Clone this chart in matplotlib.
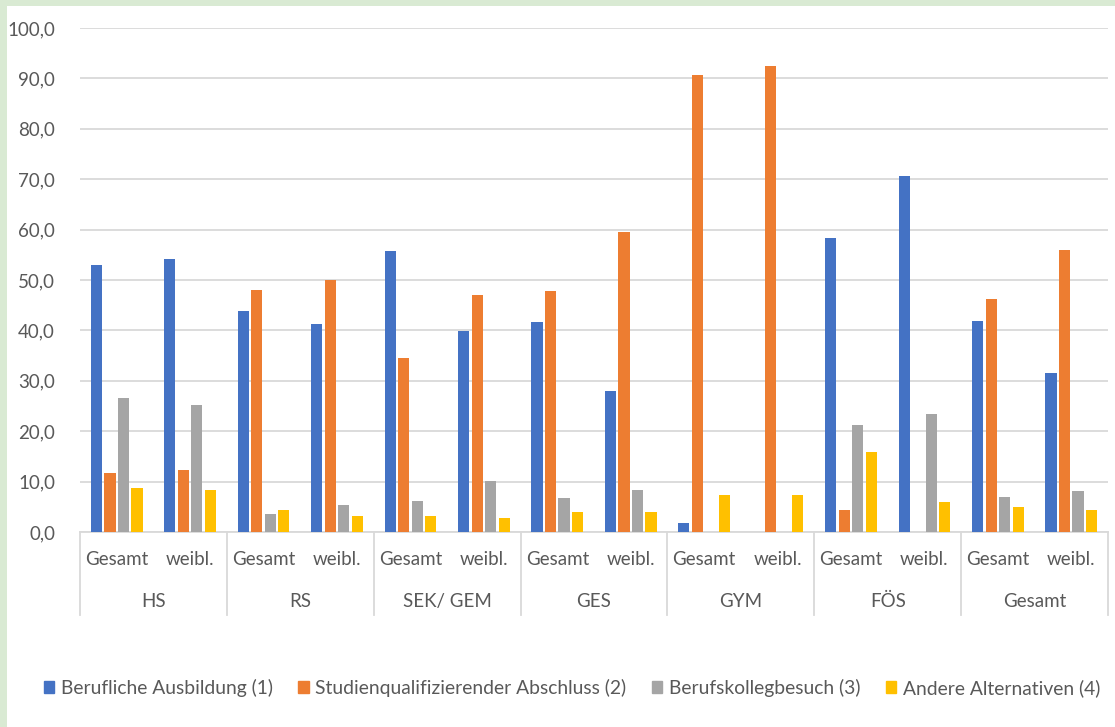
import numpy as np
import matplotlib.pyplot as plt
from matplotlib.patches import Rectangle
from matplotlib.lines import Line2D

plt.rcParams['font.family'] = ['Lato', 'DejaVu Sans']

schools = ["HS", "RS", "SEK/ GEM", "GES", "GYM", "FÖS", "Gesamt"]
subgroups = ["Gesamt", "weibl."]

series_names = ["Berufliche Ausbildung (1)",
                "Studienqualifizierender Abschluss (2)",
                "Berufskollegbesuch (3)",
                "Andere Alternativen (4)"]

# per school: Gesamt, weibl.
ausbildung = [52.9, 54.2, 43.8, 41.2, 55.8, 39.8, 41.6, 28.0, 1.7, 0.0, 58.4, 70.6, 41.9, 31.6]
studium = [11.7, 12.4, 48.1, 50.0, 34.6, 47.1, 47.8, 59.5, 90.7, 92.5, 4.3, 0.0, 46.3, 55.9]
berufskolleg = [26.5, 25.1, 3.5, 5.4, 6.1, 10.1, 6.7, 8.4, 0.0, 0.0, 21.2, 23.5, 7.0, 8.1]
andere = [8.7, 8.3, 4.3, 3.1, 3.2, 2.8, 4.0, 4.0, 7.3, 7.3, 15.8, 5.9, 5.0, 4.3]

colors = ["#4472C4", "#ED7D31", "#A5A5A5", "#FFC000"]
text_col = "#595959"
grid_col = "#d9d9d9"
fs = 13.5

fig = plt.figure(figsize=(11.15, 7.27), dpi=100)
fig.patch.set_facecolor("#d9ead3")
fig.patches.append(Rectangle((7 / 1115, 0), 1, 1 - 6 / 727, transform=fig.transFigure,
                             facecolor="white", edgecolor="none", zorder=-1))

ax = fig.add_axes([80 / 1115, 1 - 532 / 727, 1028 / 1115, 504 / 727])
ax.set_facecolor("none")

x = np.arange(len(schools) * len(subgroups))
step = 0.184
width = 0.152
for i, (vals, col) in enumerate(zip([ausbildung, studium, berufskolleg, andere], colors)):
    ax.bar(x + (i - 1.5) * step, vals, width=width, color=col, zorder=3)

ax.set_xlim(-0.5, len(x) - 0.5)
ax.set_ylim(0, 100)
ax.set_yticks(np.arange(0, 101, 10))
ax.set_yticklabels([f"{v:.1f}".replace(".", ",") for v in np.arange(0, 101, 10)])
ax.tick_params(axis="y", length=0, pad=18, labelsize=fs, labelcolor=text_col)
ax.set_xticks([])
ax.grid(axis="y", color=grid_col, linewidth=1.3, zorder=0)
for s in ["top", "right", "left"]:
    ax.spines[s].set_visible(False)
ax.spines["bottom"].set_color(grid_col)
ax.spines["bottom"].set_linewidth(1.3)

# two-level category axis below the bars
tr = ax.get_xaxis_transform()
for k, xi in enumerate(x):
    ax.text(xi, -0.055, subgroups[k % 2], transform=tr, ha="center", va="center",
            fontsize=fs, color=text_col)
for g, name in enumerate(schools):
    ax.text(2 * g + 0.5, -0.137, name, transform=tr, ha="center", va="center",
            fontsize=fs, color=text_col)
for b in np.arange(-0.5, len(x), 2):
    ax.add_line(Line2D([b, b], [0, -0.165], transform=tr, color=grid_col,
                       linewidth=1.3, clip_on=False))

handles = [Rectangle((0, 0), 1, 1, color=c) for c in colors]
fig.legend(handles, series_names, loc="center", bbox_to_anchor=(0.513, 1 - 688 / 727),
           ncol=4, frameon=False, fontsize=13.9, labelcolor=text_col,
           handlelength=0.55, handleheight=0.55, handletextpad=0.35, columnspacing=1.3)

fig.savefig("out.png", dpi=100)
